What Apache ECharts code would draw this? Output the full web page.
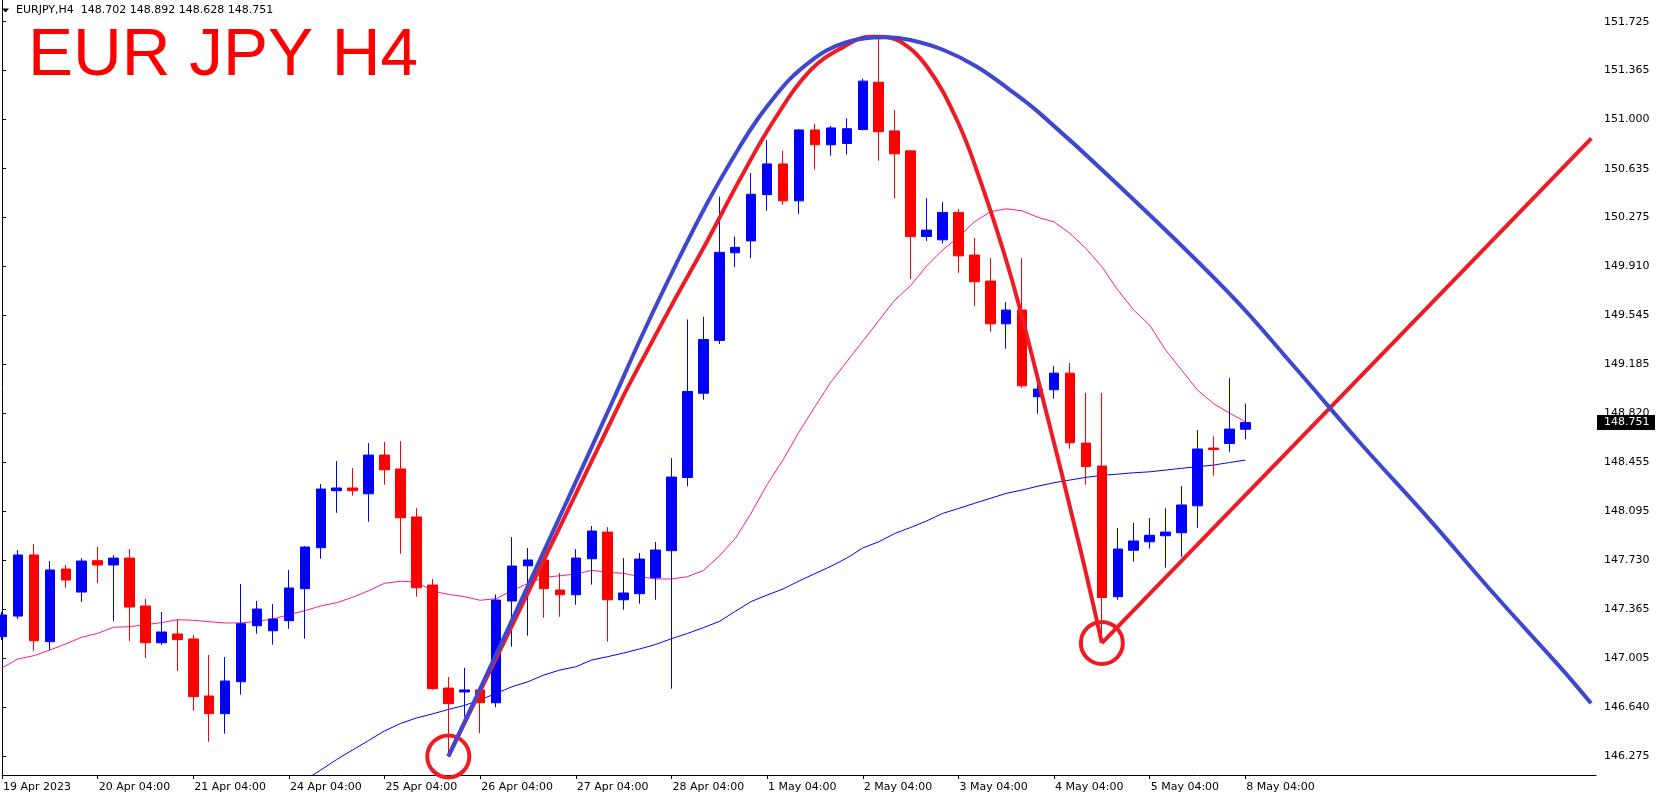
<!DOCTYPE html>
<html><head><meta charset="utf-8">
<script src="https://cdn.jsdelivr.net/npm/echarts@6/dist/echarts.min.js"></script>
<style>html,body{margin:0;padding:0;background:#fff;}#c{width:1658px;height:799px;}</style>
</head><body><div id="c"></div>
<script>
const symbolName = 'EURJPY,H4';
const titleText = 'EUR JPY H4';
const firstLabel = '19 Apr 2023';
const sessionDays = ['19 Apr','20 Apr','21 Apr','24 Apr','25 Apr','26 Apr','27 Apr','28 Apr','1 May','2 May','3 May','4 May','5 May','8 May'];
const barHours = ['00:00','04:00','08:00','12:00','16:00','20:00'];
const firstHour = '04:00';
const lastHour = '04:00';
const padBars = 22;

const openP = [147.163,147.316,147.769,147.126,147.665,147.494,147.727,147.695,147.746,147.391,
147.118,147.183,147.146,146.723,146.592,146.829,147.244,147.207,147.282,147.519,
147.823,148.246,148.266,148.223,148.510,148.407,148.051,147.546,146.782,146.753,
146.768,146.673,147.428,147.689,147.732,147.509,147.474,147.741,147.939,147.437,
147.482,147.600,147.801,148.344,148.969,149.361,150.011,150.099,150.442,150.670,
150.396,150.922,150.812,150.822,150.925,151.276,150.915,150.767,150.132,150.107,
150.310,149.994,149.801,149.484,149.586,148.943,148.995,149.118,148.599,148.429,
147.460,147.804,147.867,147.912,147.934,148.134,148.562,148.596,148.702];
const highP = [147.346,147.806,147.850,147.724,147.695,147.746,147.828,147.769,147.813,147.443,
147.346,147.294,147.176,147.027,147.012,147.554,147.428,147.405,147.658,147.836,
148.295,148.466,148.414,148.599,148.607,148.614,148.117,147.591,146.864,146.933,
146.772,147.477,147.902,147.821,147.735,147.635,147.813,147.984,147.976,147.746,
147.784,147.865,148.488,149.516,149.537,150.427,150.132,150.603,150.846,150.767,
150.928,150.967,150.952,151.009,151.302,151.603,151.069,150.770,150.416,150.387,
150.335,150.120,149.971,149.645,149.971,149.044,149.173,149.193,148.972,148.972,
147.969,148.008,148.043,148.115,148.280,148.696,148.649,149.081,148.892];
const lowP = [147.138,147.294,147.059,147.064,147.526,147.420,147.561,147.279,147.131,147.005,
147.101,146.909,146.614,146.384,146.444,146.733,147.185,147.104,147.222,147.148,
147.741,148.082,148.209,148.016,148.290,147.778,147.460,146.770,146.275,146.569,
146.447,146.639,147.089,147.170,147.304,147.311,147.400,147.549,147.126,147.363,
147.408,147.437,146.777,148.278,148.921,149.334,149.905,149.971,150.323,150.366,
150.299,150.628,150.731,150.740,150.919,150.694,150.415,149.816,150.097,150.080,
149.862,149.615,149.425,149.299,149.009,148.817,148.928,148.557,148.291,147.116,
147.437,147.719,147.816,147.675,147.756,147.971,148.357,148.535,148.628];
const closeP = [147.324,147.769,147.133,147.658,147.583,147.724,147.695,147.746,147.383,147.118,
147.198,147.141,146.718,146.592,146.834,147.259,147.368,147.294,147.524,147.828,
148.258,148.266,148.246,148.510,148.401,148.045,147.526,146.777,146.666,146.768,
146.673,147.435,147.687,147.732,147.519,147.474,147.746,147.947,147.437,147.487,
147.739,147.806,148.347,148.982,149.367,150.014,150.051,150.445,150.670,150.396,
150.922,150.812,150.937,150.931,151.284,150.909,150.745,150.131,150.179,150.310,
149.988,149.796,149.484,149.586,149.024,149.000,149.118,148.601,148.425,147.454,
147.813,147.873,147.915,147.939,148.140,148.555,148.551,148.703,148.751];

const maFast = [146.931,146.998,147.022,147.064,147.109,147.159,147.188,147.233,147.237,147.252,
147.267,147.289,147.285,147.274,147.265,147.265,147.277,147.294,147.326,147.356,
147.391,147.415,147.455,147.504,147.559,147.574,147.569,147.502,147.477,147.460,
147.433,147.445,147.504,147.559,147.603,147.615,147.628,147.655,147.641,147.633,
147.608,147.591,147.591,147.608,147.654,147.761,147.892,148.080,148.292,148.475,
148.681,148.869,149.052,149.203,149.355,149.507,149.659,149.767,149.912,150.031,
150.127,150.240,150.315,150.337,150.322,150.273,150.240,150.154,150.043,149.907,
149.734,149.586,149.474,149.289,149.141,148.992,148.892,148.822,148.757];
const maSlow = [null,null,null,null,null,null,null,null,null,null,
null,null,null,null,null,null,null,null,146.056,146.100,
146.174,146.252,146.323,146.393,146.464,146.519,146.560,146.590,146.623,146.653,
146.694,146.743,146.792,146.829,146.879,146.916,146.940,146.990,147.015,147.042,
147.072,147.105,147.148,147.187,147.230,147.276,147.351,147.424,147.472,147.517,
147.576,147.631,147.685,147.746,147.821,147.867,147.928,147.973,148.021,148.077,
148.114,148.152,148.189,148.226,148.251,148.280,148.305,148.325,148.345,148.360,
148.369,148.379,148.386,148.399,148.412,148.424,148.436,148.455,148.473];

const priceTicks = [146.275,146.640,147.005,147.365,147.730,148.095,148.455,148.820,149.185,149.545,149.910,150.275,150.635,151.000,151.365,151.725];
const priceMin = 146.137, priceMax = 151.886;

const arcBlueK = [28,31.36,35.11,38.34,40.11,42.19,44.28,46.36,47.43,48.44,49.49,50.74,51.78,52.93,54.18,55.53,56.99,59.07,61.16,63.24,65.11,69.69,76.99,81.16,85.32,89.49,93.66,97.82,99.69];
const arcBlueP = [146.275,147.123,148.083,148.919,149.386,149.902,150.388,150.813,151.007,151.163,151.307,151.433,151.515,151.571,151.602,151.609,151.589,151.515,151.391,151.218,151.045,150.551,149.710,149.154,148.585,148.041,147.472,146.928,146.669];
const arcRedK = [28,31.36,35.11,38.86,40.11,42.19,44.28,46.36,48.44,50.74,52.82,54.49,55.11,56.36,58.03,59.91,61.36,63.24,65.11,67.61,69];
const arcRedP = [146.275,147.090,148.004,148.919,149.203,149.660,150.106,150.570,150.996,151.367,151.540,151.614,151.614,151.577,151.391,150.996,150.551,149.859,149.017,147.830,147.116];
const trendK = [69, 99.71];
const trendP = [147.116, 150.859];
const pivotBars = [28, 69];

const categories = [];
sessionDays.forEach((d, di) => {
  barHours.forEach(h => {
    if (di === 0 && h < firstHour) return;
    if (di === sessionDays.length - 1 && h > lastHour) return;
    categories.push(d + ' ' + h);
  });
});
const nBars = categories.length;
for (let i = 0; i < padBars; i++) categories.push('');
const N = categories.length;

const candleData = openP.map((o, i) => [o, closeP[i], lowP[i], highP[i]]);
const showDate = (idx) => idx < nBars && categories[idx].slice(-5) === '04:00';

const chart = echarts.init(document.getElementById('c'), null, {renderer: 'canvas'});
const FONT = 'DejaVu Sans';
const option = {
  animation: false,
  backgroundColor: '#ffffff',
  grid: {left: 0, right: 62, top: 0, bottom: 24, containLabel: false},
  xAxis: [{
    type: 'category', data: categories, boundaryGap: false,
    axisLine: {show: true, onZero: false, lineStyle: {color: '#000', width: 1}},
    axisTick: {show: true, interval: (i) => showDate(i), length: 4, lineStyle: {color: '#000'}},
    axisLabel: {interval: (i) => showDate(i), formatter: (v, i) => i === 0 ? firstLabel : v,
      align: 'left', margin: 7, color: '#000', fontFamily: FONT, fontSize: 11, padding: [0, 0, 0, 1]},
    splitLine: {show: false}
  }, {
    type: 'value', min: 0, max: N - 1, show: false
  }],
  yAxis: {
    type: 'value', position: 'right', min: priceMin, max: priceMax,
    axisLine: {show: true, lineStyle: {color: '#000', width: 1}},
    axisTick: {show: true, length: 4, customValues: priceTicks, lineStyle: {color: '#000'}},
    axisLabel: {customValues: priceTicks, formatter: v => Number(v).toFixed(3), margin: 8, color: '#000', fontFamily: FONT, fontSize: 11},
    splitLine: {show: false}
  },
  series: [
    {type: 'line', xAxisIndex: 0, data: maSlow, symbol: 'none', silent: true, lineStyle: {color: '#0000ff', width: 1}, z: 2},
    {type: 'line', xAxisIndex: 0, data: maFast, symbol: 'none', silent: true, lineStyle: {color: '#ff1a8c', width: 1}, z: 2},
    {type: 'candlestick', xAxisIndex: 0, data: candleData, barWidth: 10,
      itemStyle: {color: '#0000ff', color0: '#ff0000', borderColor: '#0000ff', borderColor0: '#ff0000', borderWidth: 1}, z: 3},
    {type: 'scatter', xAxisIndex: 1, data: pivotBars.map(k => [k, lowP[k]]), symbol: 'circle', symbolSize: 42, silent: true,
      itemStyle: {color: 'rgba(0,0,0,0)', borderColor: '#ed1c24', borderWidth: 4, opacity: 1}, z: 5},
    {type: 'line', xAxisIndex: 1, data: arcRedK.map((k, i) => [k, arcRedP[i]]), smooth: 0.4, symbol: 'none', silent: true,
      lineStyle: {color: '#ed1c24', width: 4}, z: 6},
    {type: 'line', xAxisIndex: 1, data: trendK.map((k, i) => [k, trendP[i]]), symbol: 'none', silent: true,
      lineStyle: {color: '#ed1c24', width: 4}, z: 6},
    {type: 'line', xAxisIndex: 1, data: arcBlueK.map((k, i) => [k, arcBlueP[i]]), smooth: 0.4, symbol: 'none', silent: true,
      lineStyle: {color: '#3f48cc', width: 4}, z: 7}
  ]
};
chart.setOption(option);

const last = nBars - 1;
const yLast = chart.convertToPixel({yAxisIndex: 0}, closeP[last]);
const header = symbolName + '  ' + [openP[last], highP[last], lowP[last], closeP[last]].map(v => v.toFixed(3)).join(' ');
chart.setOption({
  graphic: [
    {type: 'polygon', shape: {points: [[2, 8.5], [9, 8.5], [5.5, 12.5]]}, style: {fill: '#000'}, z: 20},
    {type: 'text', x: 16, y: 10, style: {text: header, font: '11px "DejaVu Sans"', fill: '#000', verticalAlign: 'middle', align: 'left'}, z: 20},
    {type: 'text', x: 28, y: 56.6, style: {text: titleText, font: '67.5px "Liberation Sans"', fill: '#ff0000', verticalAlign: 'middle', align: 'left'}, z: 20},
    {type: 'rect', shape: {x: 1597, y: yLast - 7.5, width: 58, height: 15}, style: {fill: '#000'}, z: 20},
    {type: 'text', x: 1604, y: yLast, style: {text: closeP[last].toFixed(3), font: '11px "DejaVu Sans"', fill: '#fff', verticalAlign: 'middle', align: 'left'}, z: 21}
  ]
});
</script></body></html>
